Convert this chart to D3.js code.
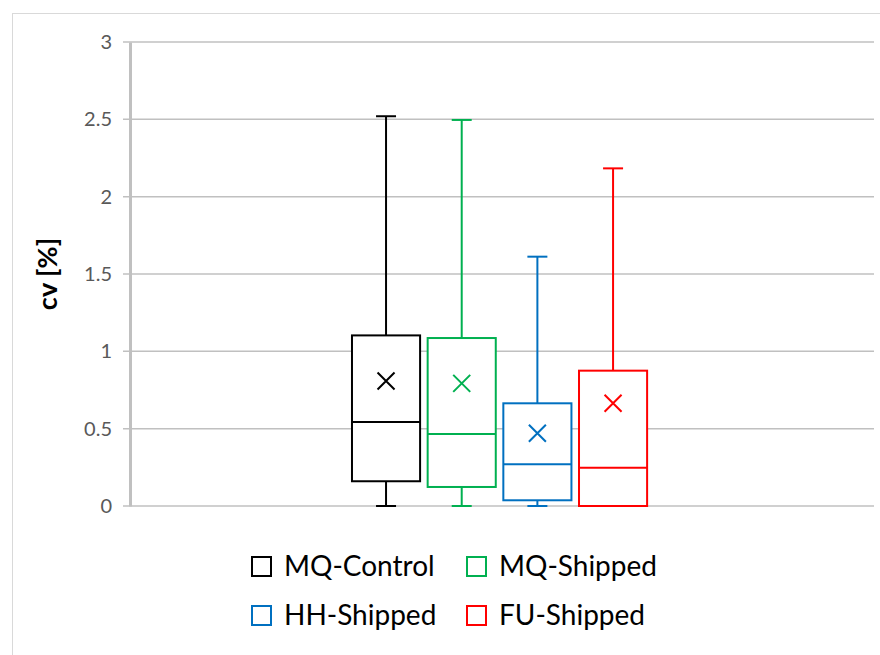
<!DOCTYPE html>
<html>
<head>
<meta charset="utf-8">
<script src="https://cdn.jsdelivr.net/npm/d3@7"></script>
<style>
  html, body { margin: 0; padding: 0; background: #fff; }
  svg { display: block; }
</style>
</head>
<body>
<svg id="chart" width="880" height="655"></svg>
<script>
// Coefficient of variation per sample group
const series = ["MQ-Control", "MQ-Shipped", "HH-Shipped", "FU-Shipped"];
const colors = ["#000000", "#00b050", "#0070c0", "#ff0000"];
const whiskerLow = [0, 0, 0, 0];
const q1 = [0.16, 0.123, 0.037, 0];
const median = [0.543, 0.466, 0.27, 0.248];
const q3 = [1.103, 1.086, 0.664, 0.875];
const whiskerHigh = [2.52, 2.496, 1.612, 2.183];
const means = [0.808, 0.793, 0.47, 0.664];
const yTicks = [0, 0.5, 1, 1.5, 2, 2.5, 3];
const yTitle = "cv [%]";

const boxes = series.map((name, i) => ({
  name, color: colors[i],
  lo: whiskerLow[i], q1: q1[i], med: median[i], q3: q3[i], hi: whiskerHigh[i], mean: means[i]
}));

const svg = d3.select("#chart");
const font = "Lato, 'Open Sans', sans-serif";

// outer chart frame
svg.append("rect")
  .attr("x", 12.5).attr("y", 13.5).attr("width", 880).attr("height", 660)
  .attr("fill", "none").attr("stroke", "#d9d9d9").attr("stroke-width", 1);

const plot = { left: 130, right: 874, top: 42, bottom: 506 };

const y = d3.scaleLinear().domain([0, 3]).range([plot.bottom, plot.top]);
const x = d3.scaleBand().domain(series).range([348.2, 650.9])
  .paddingInner(0.1).paddingOuter(0.05);

// gridlines
svg.append("g").selectAll("line").data(yTicks).join("line")
  .attr("x1", plot.left - 7).attr("x2", plot.right)
  .attr("y1", d => y(d)).attr("y2", d => y(d))
  .attr("stroke", "#c0c0c0").attr("stroke-width", 1.5);

// y axis
const yAxis = d3.axisLeft(y).tickValues(yTicks).tickSize(0).tickPadding(18)
  .tickFormat(d3.format("~g"));
const ga = svg.append("g").attr("transform", `translate(${plot.left},0)`).call(yAxis);
ga.select(".domain").attr("stroke", "#c0c0c0").attr("stroke-width", 3);
ga.selectAll("text").attr("font-family", font).attr("font-size", 20).attr("fill", "#595959");

svg.append("text")
  .attr("transform", `translate(57,${(plot.top + plot.bottom) / 2}) rotate(-90)`)
  .attr("text-anchor", "middle")
  .attr("font-family", font).attr("font-size", 27).attr("font-weight", "bold")
  .attr("fill", "#000")
  .text(yTitle);

// boxes
const g = svg.append("g").selectAll("g").data(boxes).join("g");
const cx = d => x(d.name) + x.bandwidth() / 2;
const capW = 10;

g.append("line") // upper whisker
  .attr("x1", cx).attr("x2", cx)
  .attr("y1", d => y(d.q3)).attr("y2", d => y(d.hi))
  .attr("stroke", d => d.color).attr("stroke-width", 2);
g.append("line") // lower whisker
  .attr("x1", cx).attr("x2", cx)
  .attr("y1", d => y(d.q1)).attr("y2", d => y(d.lo))
  .attr("stroke", d => d.color).attr("stroke-width", 2);
g.append("line")
  .attr("x1", d => cx(d) - capW).attr("x2", d => cx(d) + capW)
  .attr("y1", d => y(d.hi)).attr("y2", d => y(d.hi))
  .attr("stroke", d => d.color).attr("stroke-width", 2);
g.append("line")
  .attr("x1", d => cx(d) - capW).attr("x2", d => cx(d) + capW)
  .attr("y1", d => y(d.lo)).attr("y2", d => y(d.lo))
  .attr("stroke", d => d.color).attr("stroke-width", 2);
g.append("rect")
  .attr("x", d => x(d.name)).attr("width", x.bandwidth())
  .attr("y", d => y(d.q3)).attr("height", d => y(d.q1) - y(d.q3))
  .attr("fill", "#fff").attr("stroke", d => d.color).attr("stroke-width", 2);
g.append("line")
  .attr("x1", d => x(d.name)).attr("x2", d => x(d.name) + x.bandwidth())
  .attr("y1", d => y(d.med)).attr("y2", d => y(d.med))
  .attr("stroke", d => d.color).attr("stroke-width", 2);
const m = 8.5;
g.append("path")
  .attr("d", d => {
    const px = cx(d), py = y(d.mean);
    return `M${px - m},${py - m}L${px + m},${py + m}M${px - m},${py + m}L${px + m},${py - m}`;
  })
  .attr("stroke", d => d.color).attr("stroke-width", 2).attr("fill", "none");

// legend
const legendPos = [[251, 556], [466, 556], [251, 605], [466, 605]];
const lg = svg.append("g").selectAll("g").data(boxes).join("g")
  .attr("transform", (d, i) => `translate(${legendPos[i][0]},${legendPos[i][1]})`);
lg.append("rect").attr("x", 1).attr("y", 1).attr("width", 19).attr("height", 19)
  .attr("fill", "#fff").attr("stroke", d => d.color).attr("stroke-width", 2);
lg.append("text").attr("x", 33).attr("y", 20)
  .attr("font-family", font).attr("font-size", 28).attr("fill", "#000")
  .text(d => d.name);
</script>
</body>
</html>
